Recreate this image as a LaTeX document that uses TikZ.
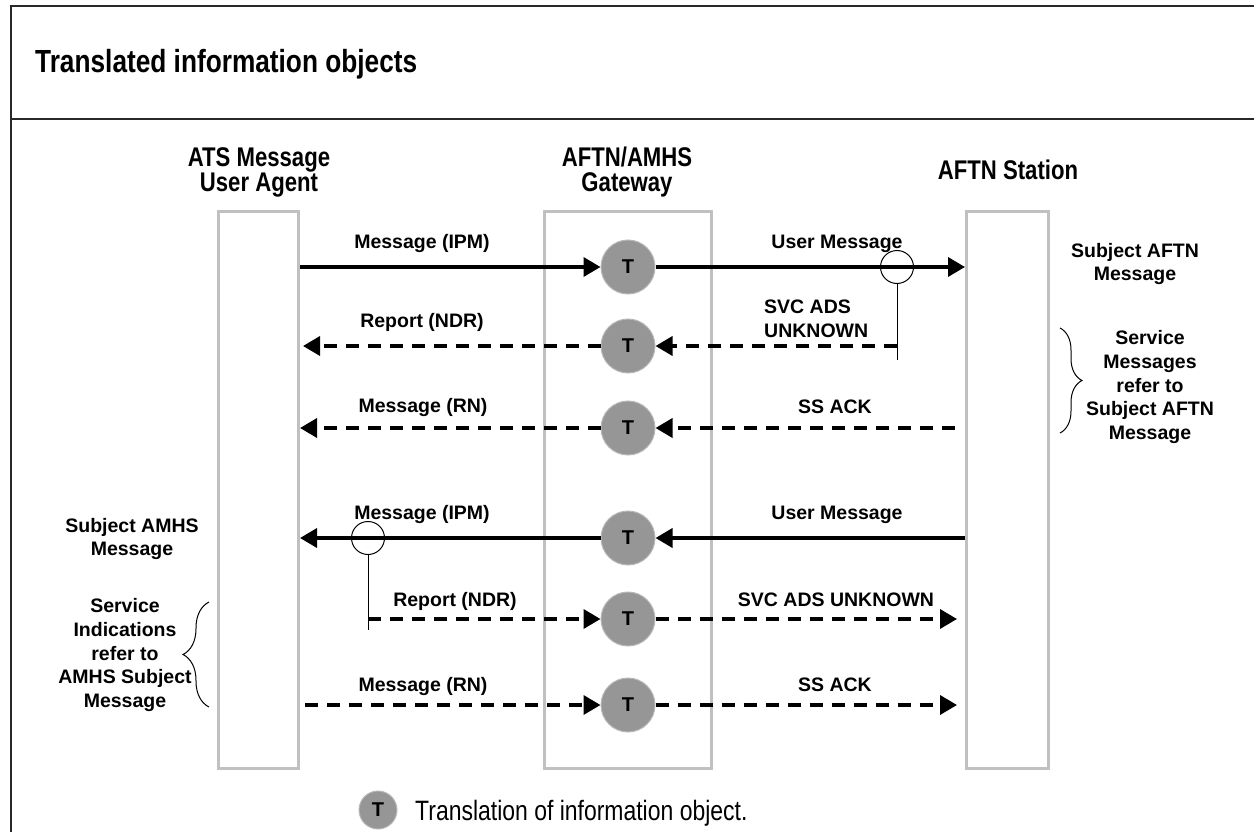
\documentclass[tikz,border=0pt]{standalone}
\usepackage{fontspec}
\setmainfont{Liberation Sans}
\newfontfamily\narrowsf[FakeStretch=0.82]{Liberation Sans}
\usetikzlibrary{arrows.meta,decorations.pathreplacing}

\definecolor{laneGray}{RGB}{192,192,192}
\definecolor{tGray}{RGB}{150,150,150}
\definecolor{tEdge}{RGB}{185,185,185}
\definecolor{frameGray}{RGB}{40,40,40}

\tikzset{
  lane/.style={draw=laneGray, line width=3pt, inner sep=0pt},
  xlate/.style={circle, fill=tGray, draw=tEdge, line width=1pt, minimum size=54pt,
    inner sep=0pt, font=\bfseries\fontsize{20}{20}\selectfont},
  msg/.style={line width=3.5pt, -{Triangle[length=17pt,width=19pt]}},
  svc/.style={msg, dash pattern=on 13pt off 9pt},
  lbl/.style={inner sep=0pt, font=\bfseries\fontsize{19.5}{23.7}\selectfont},
  head/.style={inner sep=0pt, align=center, font=\narrowsf\bfseries\fontsize{27}{25}\selectfont},
  ring/.style={circle, draw, line width=1pt, minimum size=33pt, inner sep=0pt},
  tick/.style={line width=1pt},
  curly/.style={line width=1pt, decorate}
}

\begin{document}
\begin{tikzpicture}[x=1pt, y=-1pt]
    \useasboundingbox (0,0) rectangle (1254,832);

    % frame and title
    \draw[frameGray, line width=2.5pt] (1254,6) -- (11,6) -- (11,832);
    \draw[frameGray, line width=2.5pt] (11,119) -- (1254,119);
    \node[anchor=base west, inner sep=0pt, font=\narrowsf\bfseries\fontsize{32}{32}\selectfont]
        (title) at (35,73) {Translated information objects};

    % lifelines
    \node[lane, minimum width=80pt, minimum height=557pt] (ua) at (258.5,490) {};
    \node[lane, minimum width=167pt, minimum height=557pt] (gw) at (628,490) {};
    \node[lane, minimum width=82pt, minimum height=557pt] (st) at (1007.5,490) {};

    \node[head] (uahead) at (259,172) {ATS Message\\User Agent};
    \node[head] (gwhead) at (627,172) {AFTN/AMHS\\Gateway};
    \node[head, anchor=base] (sthead) at (1008,180) {AFTN Station};

    % translations
    \node[xlate] (t1) at (628,267) {T};
    \node[xlate] (t2) at (628,346) {T};
    \node[xlate] (t3) at (628,428) {T};
    \node[xlate] (t4) at (628,538) {T};
    \node[xlate] (t5) at (628,619) {T};
    \node[xlate] (t6) at (628,705) {T};

    \node[ring] (c1) at (897,267) {};
    \coordinate (c1d) at (897,360);
    \node[ring] (c4) at (368,538) {};
    \coordinate (c4d) at (368,630);

    % AMHS to AFTN
    \draw[msg] (ua.east |- t1) -- (t1);
    \draw[msg] (t1) -- (st.west |- t1);
    \draw[tick] (c1.south) -- (c1d);
    \draw[svc] (c1 |- t2) -- (t2);
    \draw[svc] (t2) -- ([xshift=3pt]ua.east |- t2);
    \draw[svc] ([xshift=-10pt]st.west |- t3) -- (t3);
    \draw[svc] (t3) -- (ua.east |- t3);

    % AFTN to AMHS
    \draw[msg] (st.west |- t4) -- (t4);
    \draw[msg] (t4) -- (ua.east |- t4);
    \draw[tick] (c4.south) -- (c4d);
    \draw[svc] (c4 |- t5) -- (t5);
    \draw[svc] (t5) -- ([xshift=-8pt]st.west |- t5);
    \draw[svc] ([xshift=5pt]ua.east |- t6) -- (t6);
    \draw[svc] (t6) -- ([xshift=-8pt]st.west |- t6);

    % arrow labels
    \node[lbl, anchor=base] (m1) at (422,248) {Message (IPM)};
    \node[lbl, anchor=base] (u1) at (837,248) {User Message};
    \node[lbl, anchor=base] (r2) at (422,327) {Report (NDR)};
    \node[lbl, anchor=north west, align=left] (s2) at (764,300) {SVC ADS\\UNKNOWN};
    \node[lbl, anchor=base] (m3) at (423,412) {Message (RN)};
    \node[lbl, anchor=base] (a3) at (835,413) {SS ACK};
    \node[lbl, anchor=base] (m4) at (422,519) {Message (IPM)};
    \node[lbl, anchor=base] (u4) at (837,519) {User Message};
    \node[lbl, anchor=base] (r5) at (455,606) {Report (NDR)};
    \node[lbl, anchor=base] (s5) at (836,606) {SVC ADS UNKNOWN};
    \node[lbl, anchor=base] (m6) at (423,691) {Message (RN)};
    \node[lbl, anchor=base] (a6) at (835,691) {SS ACK};

    % side notes
    \node[lbl, align=center] (subaftn) at (1135,264) {Subject AFTN\\Message};
    \node[lbl, align=center] (svcaftn) at (1150,387) {Service\\Messages\\refer to\\Subject AFTN\\Message};
    \node[lbl, align=center] (subamhs) at (132,539) {Subject AMHS\\Message};
    \node[lbl, align=center] (svcamhs) at (125,655) {Service\\Indications\\refer to\\AMHS Subject\\Message};
    \draw[curly, decoration={brace, amplitude=22pt}] (1060,328) -- (1060,433);
    \draw[curly, decoration={brace, amplitude=26pt}] (209,707) -- (209,602);

    % legend
    \node[xlate, minimum size=38pt] (lg) at (378,810) {T};
    \node[anchor=base west, inner sep=0pt, font=\narrowsf\fontsize{28}{28}\selectfont]
        (lgtext) at (415,820) {Translation of information object.};
\end{tikzpicture}
\end{document}
